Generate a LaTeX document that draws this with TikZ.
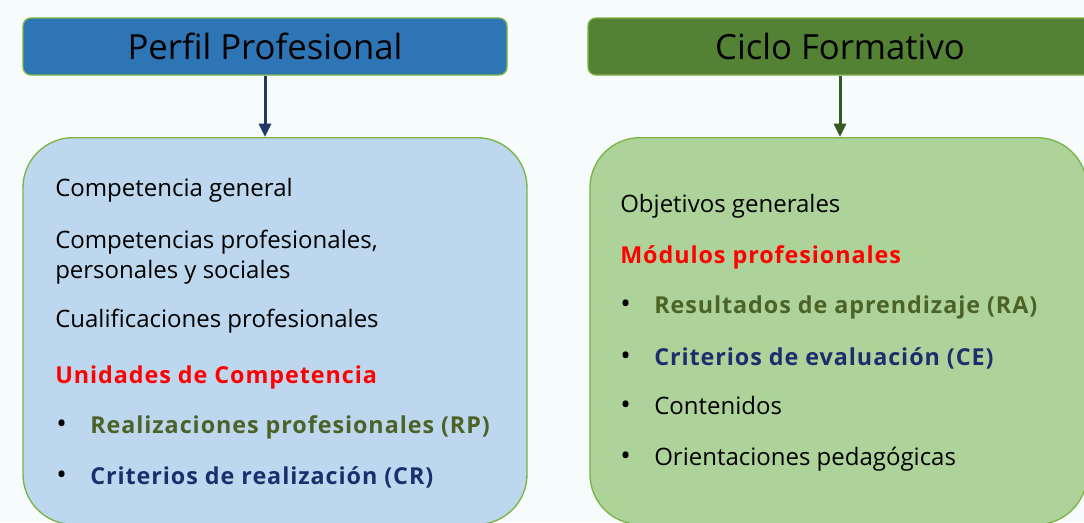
\documentclass[tikz,border=0pt]{standalone}
\usepackage{fontspec}
\setmainfont{Open Sans}
\newfontfamily\wideSans[LetterSpace=4]{Open Sans}
\usetikzlibrary{positioning, arrows.meta}

\definecolor{pagebg}{HTML}{F6FBFC}
\definecolor{edgegreen}{HTML}{7CB342}
\definecolor{perfilblue}{HTML}{2E75B6}
\definecolor{cicloGreen}{HTML}{548235}
\definecolor{perfilpanel}{HTML}{BDD7EE}
\definecolor{ciclopanel}{HTML}{ADD39A}
\definecolor{navyarrow}{HTML}{203864}
\definecolor{greenarrow}{HTML}{385723}
\definecolor{rpgreen}{HTML}{4B6327}
\definecolor{crnavy}{HTML}{1B2F6E}

\newcommand{\bul}{\makebox[25.5pt][l]{{\fontsize{21}{21}\selectfont\textbullet}}}
\newcommand{\keyword}[1]{{\wideSans\bfseries\fontsize{17.5}{20}\selectfont #1}}

\begin{document}
\begin{tikzpicture}[
    x=0.75pt, y=-0.75pt,
    title/.style={draw=edgegreen, line width=1pt, rounded corners=6pt, minimum height=42.75pt, inner sep=0pt, font=\fontsize{26}{30}\selectfont},
    panel/.style={draw=edgegreen, line width=1pt, rounded corners=37.5pt, inner sep=0pt, anchor=north},
    entry/.style={anchor=base west, inner sep=0pt, font=\fontsize{18}{21}\selectfont},
    head/.style={entry, text=red},
    arrow/.style={-{Triangle[length=10pt, width=9pt]}, line width=2.25pt}
]
    \useasboundingbox (0,0) rectangle (1084,522);
    \fill[pagebg] (0,0) rectangle (1084,522);

    % TITLES
    \node[title, fill=perfilblue, minimum width=363pt] (perfil) at (265,46.5) {Perfil Profesional};
    \node[title, fill=cicloGreen, minimum width=378pt] (ciclo) at (840,46.5) {Ciclo Formativo};

    % PANELS
    \node[panel, fill=perfilpanel, minimum width=378pt, minimum height=290pt] (perfilbox) at (275,137) {};
    \node[panel, fill=ciclopanel, minimum width=372.75pt, minimum height=290pt] (ciclobox) at (838.5,137) {};

    % ARROWS
    \draw[arrow, navyarrow] (perfil.south) -- (perfil.south |- perfilbox.north);
    \draw[arrow, greenarrow] (ciclo.south) -- (ciclo.south |- ciclobox.north);

    % PERFIL ENTRIES
    \node[entry] (compgen) at (55,196) {Competencia general};
    \node[entry] (compprof) at (55,248) {Competencias profesionales,};
    \node[entry] (compsoc) at (55,278) {personales y sociales};
    \node[entry] (cualif) at (55,327) {Cualificaciones profesionales};
    \node[head] (unidades) at (55,383) {\keyword{Unidades de Competencia}};
    \node[entry] (rp) at (56,433) {\bul\textcolor{rpgreen}{\keyword{Realizaciones profesionales (RP)}}};
    \node[entry] (cr) at (56,484) {\bul\textcolor{crnavy}{\keyword{Criterios de realización (CR)}}};

    % CICLO ENTRIES
    \node[entry] (objetivos) at (620,212) {Objetivos generales};
    \node[head] (modulos) at (620,263) {\keyword{Módulos profesionales}};
    \node[entry] (ra) at (620,313) {\bul\textcolor{rpgreen}{\keyword{Resultados de aprendizaje (RA)}}};
    \node[entry] (ce) at (620,365) {\bul\textcolor{crnavy}{\keyword{Criterios de evaluación (CE)}}};
    \node[entry] (contenidos) at (620,414) {\bul Contenidos};
    \node[entry] (orient) at (620,465) {\bul Orientaciones pedagógicas};

\end{tikzpicture}
\end{document}
